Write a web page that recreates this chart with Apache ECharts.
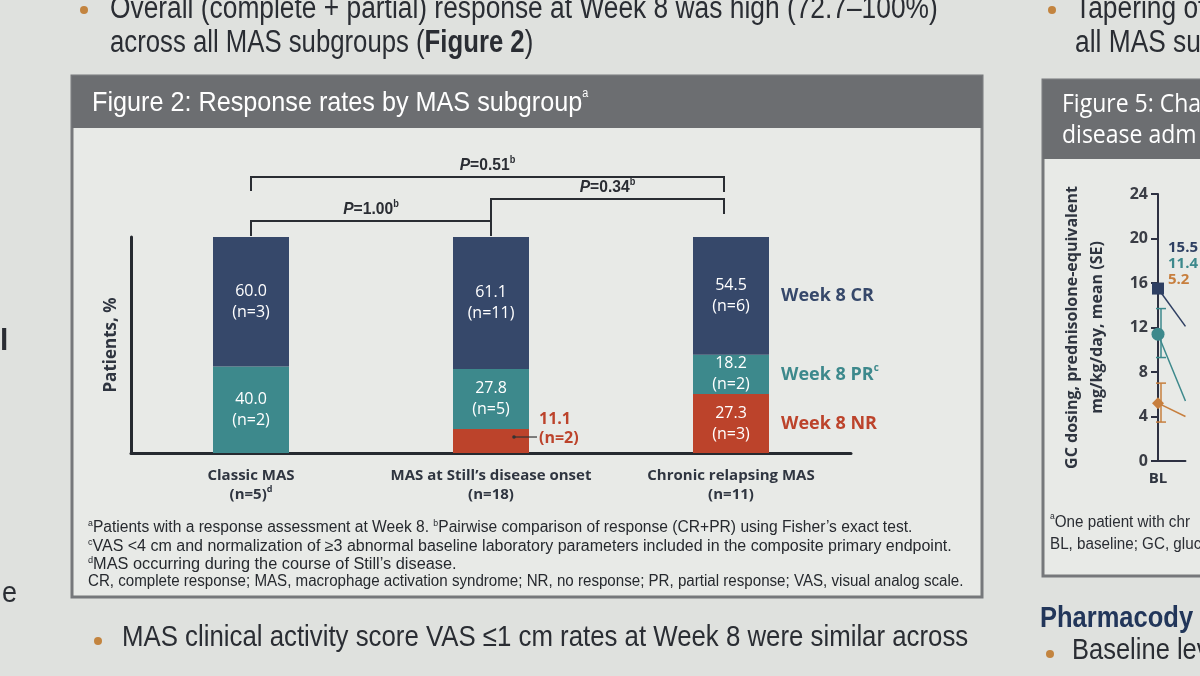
<!DOCTYPE html>
<html>
<head>
<meta charset="utf-8">
<script src="https://cdn.jsdelivr.net/npm/echarts@6/dist/echarts.min.js"></script>
<style>
  html, body { margin: 0; padding: 0; background: #dfe1de; }
  #main { width: 1200px; height: 676px; }
</style>
</head>
<body>
<div id="main"></div>
<script>
var NARROW = "'Liberation Sans', Arial, sans-serif";   // squeezed with scaleX below
var SANS = "'Open Sans', 'Liberation Sans', sans-serif";

// Figure 2 data
var categories = ['Classic MAS', 'MAS at Still\u2019s disease onset', 'Chronic relapsing MAS'];
var groupN = [5, 18, 11];
var groupSup = ['d', '', ''];
var crPct = [60.0, 61.1, 54.5];
var crN = [3, 11, 6];
var prPct = [40.0, 27.8, 18.2];
var prN = [2, 5, 2];
var nrPct = [0, 11.1, 27.3];
var nrN = [0, 2, 3];
var pairs = [[0, 1], [1, 2], [0, 2]];
var pValues = ['1.00', '0.34', '0.51'];

// Figure 5 (only its left edge is in the photo, second point estimated from the line slopes)
var gcDays = ['BL', 'W1'];
var gcNavy = [15.5, 12.1];
var gcTeal = [11.4, 5.4];
var gcOrange = [5.2, 4.0];
var gcTealSE = [[0, 9.3, 13.7]];
var gcOrangeSE = [[0, 3.5, 7.0]];

var CR_COL = '#36486a', PR_COL = '#3d898c', NR_COL = '#bc432b';
var INK = '#2f3540';

var chart = echarts.init(document.getElementById('main'));

function segLabel(nArr) {
  return function (p) {
    if (!p.value) return '';
    return p.value.toFixed(1) + '\n(n=' + nArr[p.dataIndex] + ')';
  };
}

function segData(vals) {
  // small segments get their label outside, to the right
  return vals.map(function (v) {
    if (v > 0 && v < 15) {
      return { value: v, label: { position: 'right', distance: 10, offset: [0, -12], color: NR_COL, fontWeight: 'bold', fontSize: 16, lineHeight: 19 } };
    }
    return v;
  });
}

function barSeries(name, vals, nArr, color) {
  return {
    name: name,
    type: 'bar',
    stack: 'resp',
    barWidth: 76,
    data: segData(vals),
    itemStyle: { color: color },
    label: {
      show: true,
      position: 'inside',
      color: '#fff',
      fontFamily: SANS,
      fontSize: 16,
      lineHeight: 21,
      formatter: segLabel(nArr)
    }
  };
}

function errBars(color) {
  return function (params, api) {
    var x = api.coord([api.value(0), api.value(1)])[0];
    var lo = api.coord([api.value(0), api.value(1)])[1];
    var hi = api.coord([api.value(0), api.value(2)])[1];
    var st = { stroke: color, lineWidth: 1.5 };
    return {
      type: 'group',
      children: [
        { type: 'line', shape: { x1: x + 3, y1: lo, x2: x + 3, y2: hi }, style: st },
        { type: 'line', shape: { x1: x - 2, y1: lo, x2: x + 8, y2: lo }, style: st },
        { type: 'line', shape: { x1: x - 2, y1: hi, x2: x + 8, y2: hi }, style: st }
      ]
    };
  };
}

chart.setOption({
  backgroundColor: '#dfe1de',
  animation: false,
  grid: [
    { left: 131, right: 349, top: 237, bottom: 223 },
    { left: 1158, width: 83, top: 194, bottom: 215 }
  ],
  xAxis: [
    {
      type: 'category',
      data: categories,
      axisLine: { lineStyle: { color: '#262a30', width: 3 } },
      axisTick: { show: false },
      axisLabel: {
        margin: 13,
        interval: 0,
        formatter: function (v, i) {
          return '{b|' + v + '}\n{b|(n=' + groupN[i] + ')}' + (groupSup[i] ? '{s|' + groupSup[i] + '}' : '');
        },
        rich: {
          b: { fontFamily: SANS, fontWeight: 'bold', fontSize: 15, color: INK, lineHeight: 19 },
          s: { fontFamily: SANS, fontWeight: 'bold', fontSize: 9, color: INK, verticalAlign: 'top', lineHeight: 19 }
        }
      }
    },
    {
      type: 'category',
      gridIndex: 1,
      boundaryGap: false,
      data: gcDays,
      axisLine: { lineStyle: { color: '#2d3142', width: 2 } },
      axisTick: { show: false },
      axisLabel: { margin: 10, fontFamily: SANS, fontWeight: 'bold', fontSize: 15, color: INK }
    }
  ],
  yAxis: [
    {
      type: 'value',
      min: 0,
      max: 100,
      axisLine: { show: true, lineStyle: { color: '#262a30', width: 3 } },
      axisTick: { show: false },
      axisLabel: { show: false },
      splitLine: { show: false },
      name: 'Patients, %',
      nameLocation: 'middle',
      nameRotate: 90,
      nameGap: 11,
      nameTextStyle: { fontFamily: SANS, fontWeight: 'bold', fontSize: 17, color: INK }
    },
    {
      type: 'value',
      gridIndex: 1,
      min: 0,
      max: 24,
      interval: 4,
      axisLine: { show: true, lineStyle: { color: '#2d3142', width: 2 } },
      axisTick: { show: true, length: 7, lineStyle: { color: '#2d3142', width: 2 } },
      axisLabel: { margin: 10, fontFamily: SANS, fontWeight: 'bold', fontSize: 16, color: '#3a3d45' },
      splitLine: { show: false },
      name: 'GC dosing, prednisolone-equivalent\nmg/kg/day, mean (SE)',
      nameLocation: 'middle',
      nameRotate: 90,
      nameGap: 48,
      nameTextStyle: { fontFamily: SANS, fontWeight: 'bold', fontSize: 16, color: INK, lineHeight: 25, align: 'center' }
    }
  ],
  series: [
    barSeries('Week 8 NR', nrPct, nrN, NR_COL),
    barSeries('Week 8 PR', prPct, prN, PR_COL),
    barSeries('Week 8 CR', crPct, crN, CR_COL),
    {
      type: 'line', xAxisIndex: 1, yAxisIndex: 1, data: gcNavy, symbol: 'rect', symbolSize: 12,
      itemStyle: { color: '#2e3f62' }, lineStyle: { color: '#2e3f62', width: 1.5 }, z: 4
    },
    {
      type: 'line', xAxisIndex: 1, yAxisIndex: 1, data: gcTeal, symbol: 'circle', symbolSize: 13,
      itemStyle: { color: '#3d898c' }, lineStyle: { color: '#3d898c', width: 1.5 }, z: 4
    },
    {
      type: 'line', xAxisIndex: 1, yAxisIndex: 1, data: gcOrange, symbol: 'diamond', symbolSize: 12,
      itemStyle: { color: '#c77f3e' }, lineStyle: { color: '#c77f3e', width: 1.5 }, z: 4
    },
    { type: 'custom', xAxisIndex: 1, yAxisIndex: 1, data: gcTealSE, renderItem: errBars('#3d898c'), z: 3 },
    { type: 'custom', xAxisIndex: 1, yAxisIndex: 1, data: gcOrangeSE, renderItem: errBars('#c77f3e'), z: 3 }
  ]
});

// ---- annotations placed from the axes ----
function px(i, v) { return chart.convertToPixel({ xAxisIndex: 0, yAxisIndex: 0 }, [i, v]); }
function px5(i, v) { return chart.convertToPixel({ xAxisIndex: 1, yAxisIndex: 1 }, [i, v]); }

var g = [];

// text squeezed horizontally to look like the poster's condensed face
function stext(x, y, sx, style) {
  g.push({
    type: 'text', x: x, y: y, scaleX: sx, z: 10,
    style: Object.assign({ x: 0, y: 0, verticalAlign: 'middle' }, style)
  });
}
function bullet(x, y) {
  g.push({ type: 'circle', shape: { cx: x, cy: y, r: 4 }, style: { fill: '#c3843f' }, z: 10 });
}
function line(x, y, text, size, sx, opts) {
  stext(x, y, sx, Object.assign({ text: text, fill: '#2a2d33', fontFamily: NARROW, fontSize: size }, opts || {}));
}

// poster text around the figures
bullet(84, 10);
line(110, 9, 'Overall (complete + partial) response at Week 8 was high (72.7\u2013100%)', 31, 0.85);
stext(110, 43, 0.83, {
  text: '{n|across all MAS subgroups (}{b|Figure 2}{n|)}',
  rich: {
    n: { fontFamily: NARROW, fontSize: 31, fill: '#2a2d33' },
    b: { fontFamily: NARROW, fontSize: 31, fontWeight: 'bold', fill: '#2a2d33' }
  }
});
bullet(1052, 10);
line(1075, 9, 'Tapering of', 31, 0.85);
line(1075, 43, 'all MAS sub', 31, 0.85);
bullet(98, 641);
line(122, 638, 'MAS clinical activity score VAS \u22641 cm rates at Week 8 were similar across', 30, 0.86);
line(1040, 619, 'Pharmacody', 30, 0.85, { fontWeight: 'bold', fill: '#22365a' });
bullet(1050, 654);
line(1072, 651, 'Baseline lev', 30, 0.85);
line(2, 594, 'e', 30, 0.9);
line(0, 342, 'l', 30, 1, { fontWeight: 'bold' });

// figure 2 frame
g.push({ type: 'rect', shape: { x: 72, y: 76, width: 910, height: 521 }, style: { fill: '#e8eae7', stroke: '#76787b', lineWidth: 3 }, z: -10 });
g.push({ type: 'rect', shape: { x: 72, y: 76, width: 910, height: 52 }, style: { fill: '#6c6e71' }, z: -9 });
stext(92, 103, 0.9, {
  text: '{t|Figure 2: Response rates by MAS subgroup}{s|a}',
  rich: {
    t: { fontFamily: NARROW, fontSize: 28, fill: '#ffffff', lineHeight: 30 },
    s: { fontFamily: NARROW, fontSize: 12, fill: '#ffffff', verticalAlign: 'top', lineHeight: 30 }
  }
});

// figure 5 frame (cut by the photo)
g.push({ type: 'rect', shape: { x: 1043, y: 80, width: 240, height: 496 }, style: { fill: '#e8eae7', stroke: '#76787b', lineWidth: 3 }, z: -10 });
g.push({ type: 'rect', shape: { x: 1043, y: 80, width: 240, height: 79 }, style: { fill: '#6c6e71' }, z: -9 });
line(1062, 105, 'Figure 5: Cha', 25, 0.92, { fill: '#ffffff', fontFamily: SANS });
line(1062, 136, 'disease adm', 25, 0.92, { fill: '#ffffff', fontFamily: SANS });
stext(1050, 534, 0.95, {
  text: '{s|a}{n|One patient with chr}\n{n|BL, baseline; GC, gluc}',
  rich: {
    n: { fontFamily: NARROW, fontSize: 16, fill: '#2a2d33', lineHeight: 22 },
    s: { fontFamily: NARROW, fontSize: 9, fill: '#2a2d33', verticalAlign: 'top', lineHeight: 22 }
  }
});
var bl = px5(0, 20);
g.push({
  type: 'text', z: 10,
  style: {
    x: bl[0] + 10, y: bl[1] + 1, verticalAlign: 'top',
    text: '{a|' + gcNavy[0].toFixed(1) + '}\n{b|' + gcTeal[0].toFixed(1) + '}\n{c|' + gcOrange[0].toFixed(1) + '}',
    rich: {
      a: { fontFamily: SANS, fontWeight: 'bold', fontSize: 15, fill: '#2e3f62', lineHeight: 16 },
      b: { fontFamily: SANS, fontWeight: 'bold', fontSize: 15, fill: '#3d898c', lineHeight: 16 },
      c: { fontFamily: SANS, fontWeight: 'bold', fontSize: 15, fill: '#c77f3e', lineHeight: 16 }
    }
  }
});

// footnotes of figure 2
var fnRich = {
  n: { fontFamily: NARROW, fontSize: 16, fill: '#26292e', lineHeight: 18 },
  s: { fontFamily: NARROW, fontSize: 9, fill: '#26292e', verticalAlign: 'top', lineHeight: 18 }
};
var footnotes = [
  '{s|a}{n|Patients with a response assessment at Week 8. }{s|b}{n|Pairwise comparison of response (CR+PR) using Fisher\u2019s exact test.}',
  '{s|c}{n|VAS <4 cm and normalization of \u22653 abnormal baseline laboratory parameters included in the composite primary endpoint.}',
  '{s|d}{n|MAS occurring during the course of Still\u2019s disease.}',
  '{n|CR, complete response; MAS, macrophage activation syndrome; NR, no response; PR, partial response; VAS, visual analog scale.}'
];
var fnY = [528, 547, 565, 582];
var fnScale = [0.975, 1.0, 1.02, 0.945];
footnotes.forEach(function (t, i) {
  stext(88, fnY[i], fnScale[i], { text: t, rich: fnRich });
});

// response legend next to the last bar
var last = categories.length - 1;
var legendRows = [
  { name: 'Week 8 CR', sup: '', mid: nrPct[last] + prPct[last] + crPct[last] / 2, color: CR_COL },
  { name: 'Week 8 PR', sup: 'c', mid: nrPct[last] + prPct[last] / 2, color: PR_COL },
  { name: 'Week 8 NR', sup: '', mid: nrPct[last] / 2, color: NR_COL }
];
legendRows.forEach(function (r) {
  var p = px(last, r.mid);
  g.push({
    type: 'text', z: 10,
    style: {
      x: p[0] + 50, y: p[1], verticalAlign: 'middle',
      text: '{t|' + r.name + '}' + (r.sup ? '{s|' + r.sup + '}' : ''),
      rich: {
        t: { fontFamily: SANS, fontWeight: 'bold', fontSize: 18, fill: r.color, lineHeight: 22 },
        s: { fontFamily: SANS, fontWeight: 'bold', fontSize: 10, fill: r.color, verticalAlign: 'top', lineHeight: 22 }
      }
    }
  });
});

// leader line for the small NR segment
nrPct.forEach(function (v, i) {
  if (v > 0 && v < 15) {
    var p = px(i, v / 2);
    g.push({ type: 'line', shape: { x1: p[0] + 23, y1: p[1] - 4, x2: p[0] + 46, y2: p[1] - 4 }, style: { stroke: '#333', lineWidth: 1.2 }, z: 10 });
    g.push({ type: 'circle', shape: { cx: p[0] + 23, cy: p[1] - 4, r: 1.8 }, style: { fill: '#333' }, z: 10 });
  }
});

// significance brackets
var topPx = px(0, 100)[1];
var levels = [topPx - 16, topPx - 38, topPx - 60];
pairs.forEach(function (pr, k) {
  var x1 = px(pr[0], 0)[0];
  var x2 = px(pr[1], 0)[0] - (pr[1] === last ? 7 : 0);
  var y = levels[k];
  var leftDrop = (k === 0 || k === 1) ? topPx - 1 : y + 14;
  var rightDrop = k === 0 ? topPx - 1 : y + 15;
  var st = { stroke: '#2a2d33', lineWidth: 2, fill: null };
  g.push({ type: 'polyline', shape: { points: [[x1, leftDrop], [x1, y], [x2, y], [x2, rightDrop]] }, style: st, z: 10 });
  stext((x1 + x2) / 2, y - 12, 0.92, {
    align: 'center',
    text: '{i|P}{n|=' + pValues[k] + '}{s|b}',
    rich: {
      i: { fontFamily: NARROW, fontStyle: 'italic', fontWeight: 'bold', fontSize: 17, fill: '#2a2d33', lineHeight: 20 },
      n: { fontFamily: NARROW, fontWeight: 'bold', fontSize: 17, fill: '#2a2d33', lineHeight: 20 },
      s: { fontFamily: NARROW, fontWeight: 'bold', fontSize: 10, fill: '#2a2d33', verticalAlign: 'top', lineHeight: 20 }
    }
  });
});

chart.setOption({ graphic: g });
</script>
</body>
</html>
